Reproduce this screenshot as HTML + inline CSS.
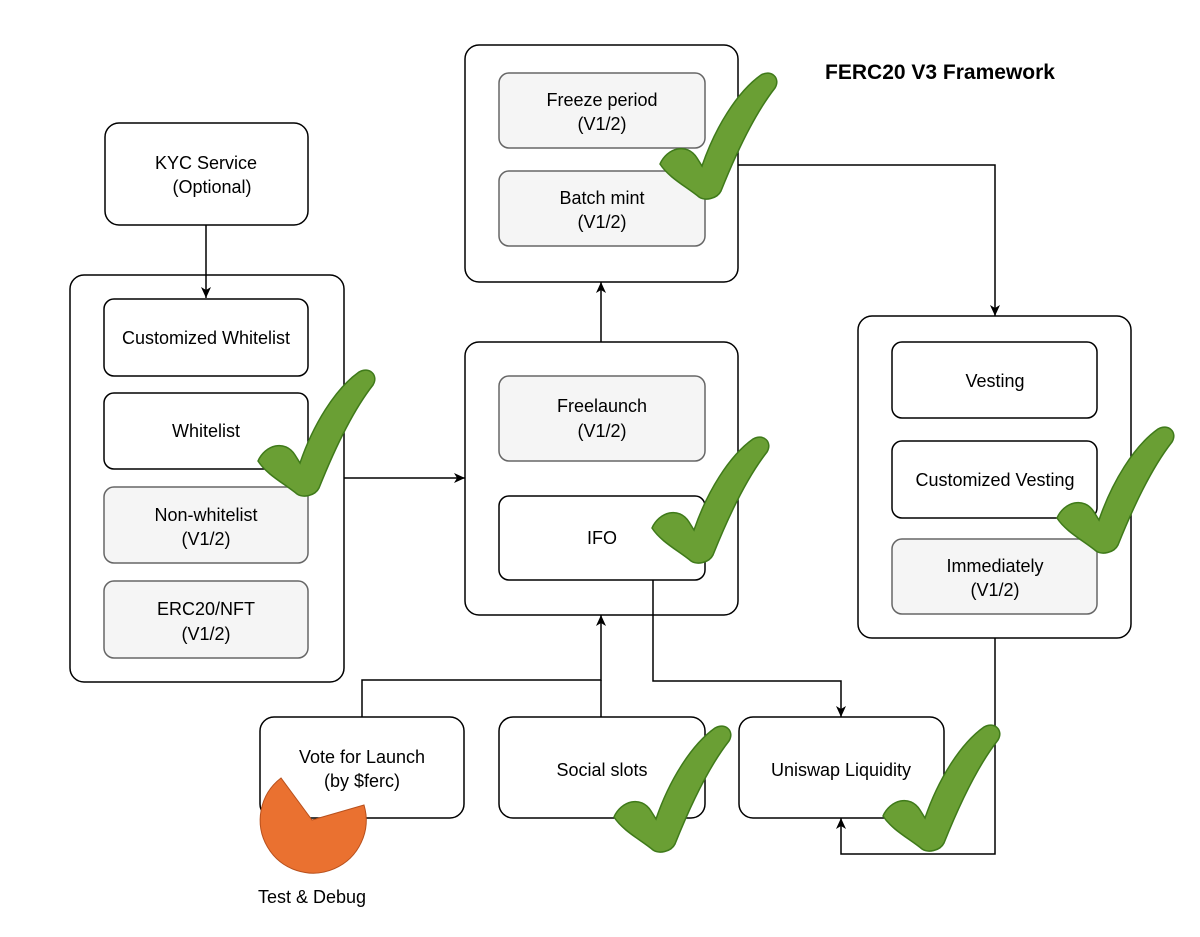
<!DOCTYPE html>
<html><head><style>body{margin:0;background:#fff}svg{display:block}text{font-family:"Liberation Sans",sans-serif;font-size:18px;text-anchor:middle;fill:#000}</style></head>
<body>
<svg width="1200" height="937" viewBox="0 0 1200 937" xmlns="http://www.w3.org/2000/svg">
<defs>
<marker id="a" markerWidth="12" markerHeight="12" refX="11" refY="6" orient="auto" markerUnits="userSpaceOnUse"><path d="M0,1 L11,6 L0,11 L3,6 Z" fill="#000"/></marker>
<path id="chk" d="M1,94 C8,78 28,72 38,88 L43,96 C56,58 78,22 102,5 C112,-1 122,8 116,18 C94,46 76,86 62,121 C58,129 46,131 40,127 C28,117 10,108 1,94 Z" fill="#6a9f34" stroke="#3f7a1a" stroke-width="1.5"/>
</defs>
<g stroke="#000" stroke-width="1.5" fill="#fff">
<rect x="105" y="123" width="203" height="102" rx="14"/>
<rect x="70" y="275" width="274" height="407" rx="14"/>
<rect x="104" y="299" width="204" height="77" rx="10"/>
<rect x="104" y="393" width="204" height="76" rx="10"/>
<rect x="465" y="45" width="273" height="237" rx="14"/>
<rect x="465" y="342" width="273" height="273" rx="14"/>
<rect x="499" y="496" width="206" height="84" rx="10"/>
<rect x="858" y="316" width="273" height="322" rx="14"/>
<rect x="892" y="342" width="205" height="76" rx="10"/>
<rect x="892" y="441" width="205" height="77" rx="10"/>
<rect x="260" y="717" width="204" height="101" rx="14"/>
<rect x="499" y="717" width="206" height="101" rx="14"/>
<rect x="739" y="717" width="205" height="101" rx="14"/>
</g>
<g stroke="#666" stroke-width="1.5" fill="#f5f5f5">
<rect x="104" y="487" width="204" height="76" rx="10"/>
<rect x="104" y="581" width="204" height="77" rx="10"/>
<rect x="499" y="73" width="206" height="75" rx="10"/>
<rect x="499" y="171" width="206" height="75" rx="10"/>
<rect x="499" y="376" width="206" height="85" rx="10"/>
<rect x="892" y="539" width="205" height="75" rx="10"/>
</g>
<g fill="none" stroke="#000" stroke-width="1.5">
<path d="M206,225 V298" marker-end="url(#a)"/>
<path d="M344,478 H465" marker-end="url(#a)"/>
<path d="M601,342 V282" marker-end="url(#a)"/>
<path d="M738,165 H995 V316" marker-end="url(#a)"/>
<path d="M653,580 V681 H841 V717" marker-end="url(#a)"/>
<path d="M362,717 V680 H601 V615" marker-end="url(#a)"/>
<path d="M601,717 V680"/>
<path d="M995,638 V854 H841 V818" marker-end="url(#a)"/>
</g>
<text x="206" y="169">KYC Service</text><text x="212" y="193">(Optional)</text>
<text x="206" y="344">Customized Whitelist</text>
<text x="206" y="437">Whitelist</text>
<text x="206" y="521" fill="#333">Non-whitelist</text><text x="206" y="545" fill="#333">(V1/2)</text>
<text x="206" y="615" fill="#333">ERC20/NFT</text><text x="206" y="640" fill="#333">(V1/2)</text>
<text x="602" y="106" fill="#333">Freeze period</text><text x="602" y="130" fill="#333">(V1/2)</text>
<text x="602" y="204" fill="#333">Batch mint</text><text x="602" y="228" fill="#333">(V1/2)</text>
<text x="602" y="412" fill="#333">Freelaunch</text><text x="602" y="437" fill="#333">(V1/2)</text>
<text x="602" y="544">IFO</text>
<text x="995" y="387">Vesting</text>
<text x="995" y="486">Customized Vesting</text>
<text x="995" y="572" fill="#333">Immediately</text><text x="995" y="596" fill="#333">(V1/2)</text>
<text x="362" y="763">Vote for Launch</text><text x="362" y="787">(by $ferc)</text>
<text x="602" y="776">Social slots</text>
<text x="841" y="776">Uniswap Liquidity</text>
<text x="312" y="903">Test &amp; Debug</text>
<text x="940" y="79" style="font-weight:bold;font-size:21px">FERC20 V3 Framework</text>
<path d="M312,820 L281,778 A53,53 0 1 0 364,805 Z" fill="#ea7130" stroke="#b8501c" stroke-width="1"/>
<use href="#chk" transform="translate(659,70)"/>
<use href="#chk" transform="translate(257,367)"/>
<use href="#chk" transform="translate(651,434)"/>
<use href="#chk" transform="translate(1056,424)"/>
<use href="#chk" transform="translate(613,723)"/>
<use href="#chk" transform="translate(882,722)"/>
</svg>
</body></html>
